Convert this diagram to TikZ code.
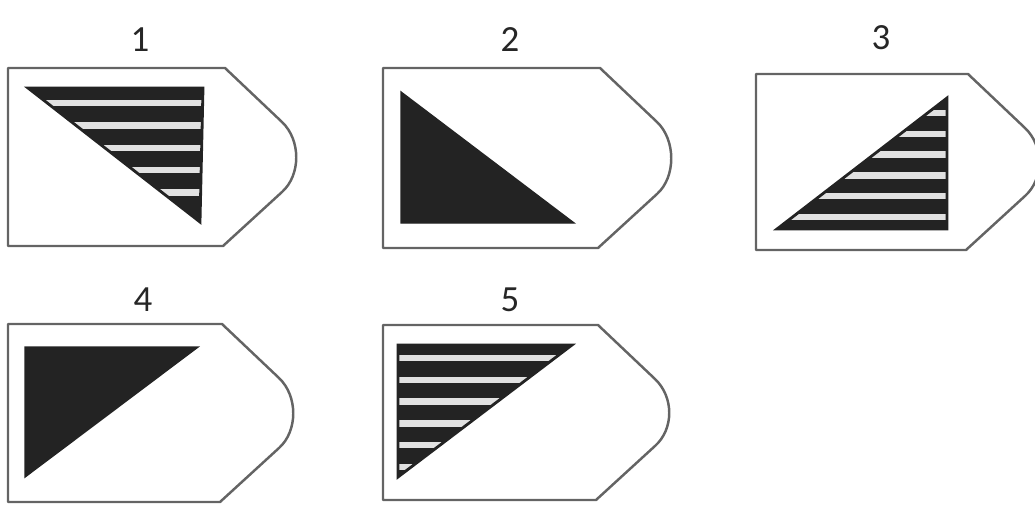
\documentclass[tikz,border=0pt]{standalone}
\usepackage{fontspec}
\setmainfont{Carlito}
\usepackage{tikz}
\usetikzlibrary{positioning}
\definecolor{cardgray}{RGB}{100,100,100}
\definecolor{tridark}{RGB}{35,35,35}
\definecolor{stripegray}{RGB}{225,225,225}
\tikzset{
  cardline/.style={draw=cardgray, line width=1.4pt, line join=round},
  solidtri/.style={fill=tridark, draw=tridark, line width=0.8pt},
  stripetri/.style={draw=tridark, line width=1.6pt, line join=miter},
  stripe/.style={draw=stripegray, line width=3.6pt},
  cardlabel/.style={font=\fontsize{21}{23}\selectfont, text=black!85, inner sep=0pt}
}
\begin{document}
\begin{tikzpicture}[x=0.02cm, y=-0.02cm]
  \useasboundingbox (0,0) rectangle (1035,504);

  % card outlines and numbers
  \foreach \n/\l/\t/\r/\b/\lx/\ly in {1/8/68/225/246/140/40, 2/383/68/600/248/510/40,
      3/756/74/968/250/881/38, 4/8/324/222/502/143/300, 5/383/325/598/500/510/300} {
    \draw[cardline] (\l,\t) -- (\r,\t) -- ({\r+57},{\t+54})
      .. controls ({\r+76},{\t+72}) and ({\r+76},{\b-71}) .. ({\r+57},{\b-54})
      -- ({\r-2},\b) -- (\l,\b) -- cycle;
    \node[cardlabel] (lab\n) at (\lx,\ly) {\n};
  }

  % card 1
  \fill[tridark] (28,88) -- (203,88) -- (200,222) -- cycle;
  \begin{scope}
    \clip (28,88) -- (203,88) -- (200,222) -- cycle;
    \foreach \k in {0,...,4}
      \draw[stripe] (20,{103+22.4*\k}) -- (210,{103+22.4*\k});
  \end{scope}
  \draw[stripetri] (28,88) -- (203,88) -- (200,222) -- cycle;

  % card 2
  \draw[solidtri] (401,92) -- (401,223) -- (574,223) -- cycle;

  % card 3
  \fill[tridark] (777,229) -- (947,229) -- (947,98) -- cycle;
  \begin{scope}
    \clip (777,229) -- (947,229) -- (947,98) -- cycle;
    \foreach \k in {0,...,5}
      \draw[stripe] (770,{113+20.8*\k}) -- (955,{113+20.8*\k});
  \end{scope}
  \draw[stripetri] (777,229) -- (947,229) -- (947,98) -- cycle;

  % card 4
  \draw[solidtri] (25,347) -- (198,347) -- (25,477) -- cycle;

  % card 5
  \fill[tridark] (398,345) -- (572,345) -- (398,477) -- cycle;
  \begin{scope}
    \clip (398,345) -- (572,345) -- (398,477) -- cycle;
    \foreach \k in {0,...,5}
      \draw[stripe] (390,{358+21.8*\k}) -- (580,{358+21.8*\k});
  \end{scope}
  \draw[stripetri] (398,345) -- (572,345) -- (398,477) -- cycle;
\end{tikzpicture}
\end{document}
